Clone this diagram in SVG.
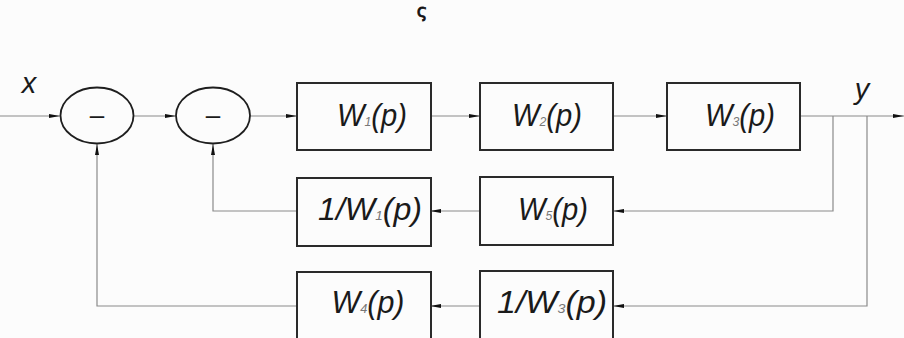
<svg xmlns="http://www.w3.org/2000/svg" width="904" height="338" viewBox="0 0 904 338">
<style>
.bg{fill:#fcfcfc}
.blk{fill:none;stroke:#2a2a2a;stroke-width:2}
.sum{fill:none;stroke:#1e1e1e;stroke-width:1.8}
.ln{fill:none;stroke:#8a8a8a;stroke-width:1.2}
.lbl{font-family:"Liberation Sans",Arial,sans-serif;font-style:italic;font-size:31px;fill:#1a1a1a;text-anchor:middle}
.sub{font-size:13px;fill:#777}
.xy{font-family:"Liberation Sans",Arial,sans-serif;font-style:italic;font-size:29px;fill:#1a1a1a;text-anchor:middle}
.minus{font-family:"Liberation Sans",Arial,sans-serif;font-size:26px;fill:#1a1a1a;text-anchor:middle}
</style>
<defs>
<marker id="ah" markerUnits="userSpaceOnUse" markerWidth="12" markerHeight="6" refX="11" refY="3" orient="auto">
<path d="M0,1 L11,3 L0,5 Z" fill="#111"/>
</marker>
</defs>
<rect class="bg" x="0" y="0" width="904" height="338"/>
<text x="422" y="17" font-family="DejaVu Sans, sans-serif" font-size="18" fill="#111" stroke="#111" stroke-width="0.8" text-anchor="middle">ς</text>
<g id="connectors">
<path class="ln" d="M0,116 H60" marker-end="url(#ah)"/>
<path class="ln" d="M134,116 H176" marker-end="url(#ah)"/>
<path class="ln" d="M250,116 H297" marker-end="url(#ah)"/>
<path class="ln" d="M430,116 H480" marker-end="url(#ah)"/>
<path class="ln" d="M613,116 H667" marker-end="url(#ah)"/>
<path class="ln" d="M800,116 H904" marker-end="url(#ah)"/>
<path class="ln" d="M833,116 V211 H613" marker-end="url(#ah)"/>
<path class="ln" d="M480,211 H430" marker-end="url(#ah)"/>
<path class="ln" d="M297,211 H213 V144" marker-end="url(#ah)"/>
<path class="ln" d="M867,116 V306 H613" marker-end="url(#ah)"/>
<path class="ln" d="M480,306 H430" marker-end="url(#ah)"/>
<path class="ln" d="M297,306 H97 V144" marker-end="url(#ah)"/>
</g>
<g id="labels">
<text class="xy" x="29" y="93">x</text>
<text class="xy" x="862" y="99">y</text>
</g>
<g id="sum1">
<ellipse class="sum" cx="97" cy="115.5" rx="36.5" ry="28"/>
<text class="minus" x="97" y="124">–</text>
</g>
<g id="sum2">
<ellipse class="sum" cx="213" cy="115.5" rx="37" ry="28"/>
<text class="minus" x="213" y="124">–</text>
</g>
<g id="W1">
<rect class="blk" x="297" y="83" width="134" height="67"/>
<text class="lbl" x="372" y="126" textLength="70" lengthAdjust="spacingAndGlyphs">W<tspan class="sub">1</tspan>(p)</text>
</g>
<g id="W2">
<rect class="blk" x="480" y="83" width="133" height="67"/>
<text class="lbl" x="547" y="126" textLength="70" lengthAdjust="spacingAndGlyphs">W<tspan class="sub">2</tspan>(p)</text>
</g>
<g id="W3">
<rect class="blk" x="667" y="83" width="133" height="67"/>
<text class="lbl" x="740" y="126" textLength="70" lengthAdjust="spacingAndGlyphs">W<tspan class="sub">3</tspan>(p)</text>
</g>
<g id="invW1">
<rect class="blk" x="297" y="178" width="134" height="68"/>
<text class="lbl" x="370" y="220" textLength="104" lengthAdjust="spacingAndGlyphs">1/W<tspan class="sub">1</tspan>(p)</text>
</g>
<g id="W5">
<rect class="blk" x="480" y="177" width="133" height="68"/>
<text class="lbl" x="553" y="220" textLength="70" lengthAdjust="spacingAndGlyphs">W<tspan class="sub">5</tspan>(p)</text>
</g>
<g id="W4">
<rect class="blk" x="297" y="272" width="134" height="80"/>
<text class="lbl" x="368" y="313" textLength="73" lengthAdjust="spacingAndGlyphs">W<tspan class="sub">4</tspan>(p)</text>
</g>
<g id="invW3">
<rect class="blk" x="480" y="271" width="133" height="80"/>
<text class="lbl" x="552" y="313" textLength="110" lengthAdjust="spacingAndGlyphs">1/W<tspan class="sub">3</tspan>(p)</text>
</g>
</svg>
